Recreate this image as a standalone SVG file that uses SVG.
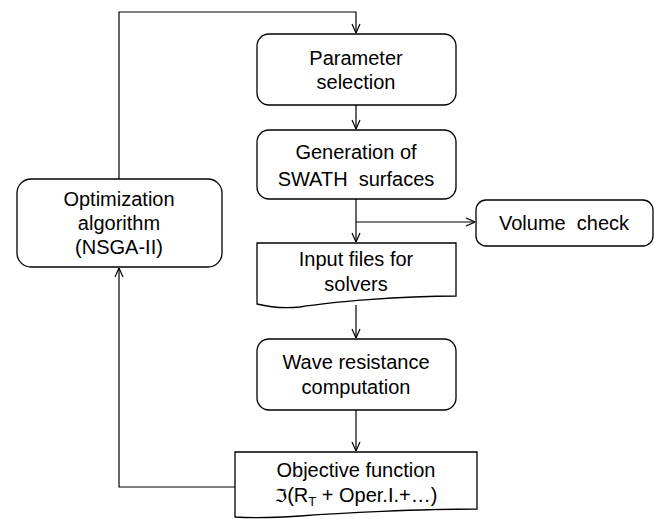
<svg xmlns="http://www.w3.org/2000/svg" width="656" height="519" viewBox="0 0 656 519">
<defs>
<marker id="arr" viewBox="0 0 10 10" refX="10" refY="5" markerWidth="10" markerHeight="10" markerUnits="userSpaceOnUse" orient="auto">
<path d="M1,1 L10,5 L1,9" fill="none" stroke="#000" stroke-width="1.2"/>
</marker>
<style>
.box{fill:#fff;stroke:#000;stroke-width:1.3}
.t{font-family:"Liberation Sans",Arial,"DejaVu Sans",sans-serif;font-size:20px;fill:#000;text-anchor:middle}
.c{fill:none;stroke:#000;stroke-width:1.2}
</style>
</defs>
<rect width="656" height="519" fill="#fff"/>
<g id="connectors">
<polyline class="c" points="119,179 119,12 356,12 356,33" marker-end="url(#arr)"/>
<line class="c" x1="356" y1="105" x2="356" y2="129" marker-end="url(#arr)"/>
<line class="c" x1="356" y1="199" x2="356" y2="242" marker-end="url(#arr)"/>
<line class="c" x1="356" y1="222" x2="475" y2="222" marker-end="url(#arr)"/>
<line class="c" x1="356" y1="305" x2="356" y2="338" marker-end="url(#arr)"/>
<line class="c" x1="356" y1="410" x2="356" y2="451" marker-end="url(#arr)"/>
<polyline class="c" points="235,487 119,487 119,268" marker-end="url(#arr)"/>
</g>
<g id="param">
<rect class="box" x="257" y="34" width="199" height="71" rx="12"/>
<text class="t" x="356" y="65">Parameter</text>
<text class="t" x="356" y="89">selection</text>
</g>
<g id="generation">
<rect class="box" x="257" y="130" width="199" height="69" rx="12"/>
<text class="t" x="356" y="159">Generation of</text>
<text class="t" x="356" y="186" style="white-space:pre">SWATH  surfaces</text>
</g>
<g id="volume">
<rect class="box" x="476" y="200" width="177" height="46" rx="10"/>
<text class="t" x="564" y="230" style="white-space:pre">Volume  check</text>
</g>
<g id="input">
<path class="box" d="M257,243 L456,243 L456,296 C400,296 330,302 300,307 C280,309 265,306 257,304 Z"/>
<text class="t" x="356" y="266">Input files for</text>
<text class="t" x="356" y="291">solvers</text>
</g>
<g id="wave">
<rect class="box" x="257" y="339" width="199" height="71" rx="12"/>
<text class="t" x="356" y="369">Wave resistance</text>
<text class="t" x="356" y="394">computation</text>
</g>
<g id="objective">
<path class="box" d="M235,452 L477,452 L477,509 C420,509 340,513 300,516 C270,518 250,518 235,517 Z"/>
<text class="t" x="356" y="477">Objective function</text>
<text class="t" x="356" y="502"><tspan font-family="DejaVu Sans,sans-serif" font-size="18">ℑ</tspan>(R<tspan font-size="13" dy="4">T</tspan><tspan dy="-4"> + Oper.I.+…)</tspan></text>
</g>
<g id="optimization">
<rect class="box" x="17" y="179" width="205" height="88" rx="14"/>
<text class="t" x="119" y="206">Optimization</text>
<text class="t" x="119" y="230">algorithm</text>
<text class="t" x="119" y="254">(NSGA-II)</text>
</g>
</svg>
